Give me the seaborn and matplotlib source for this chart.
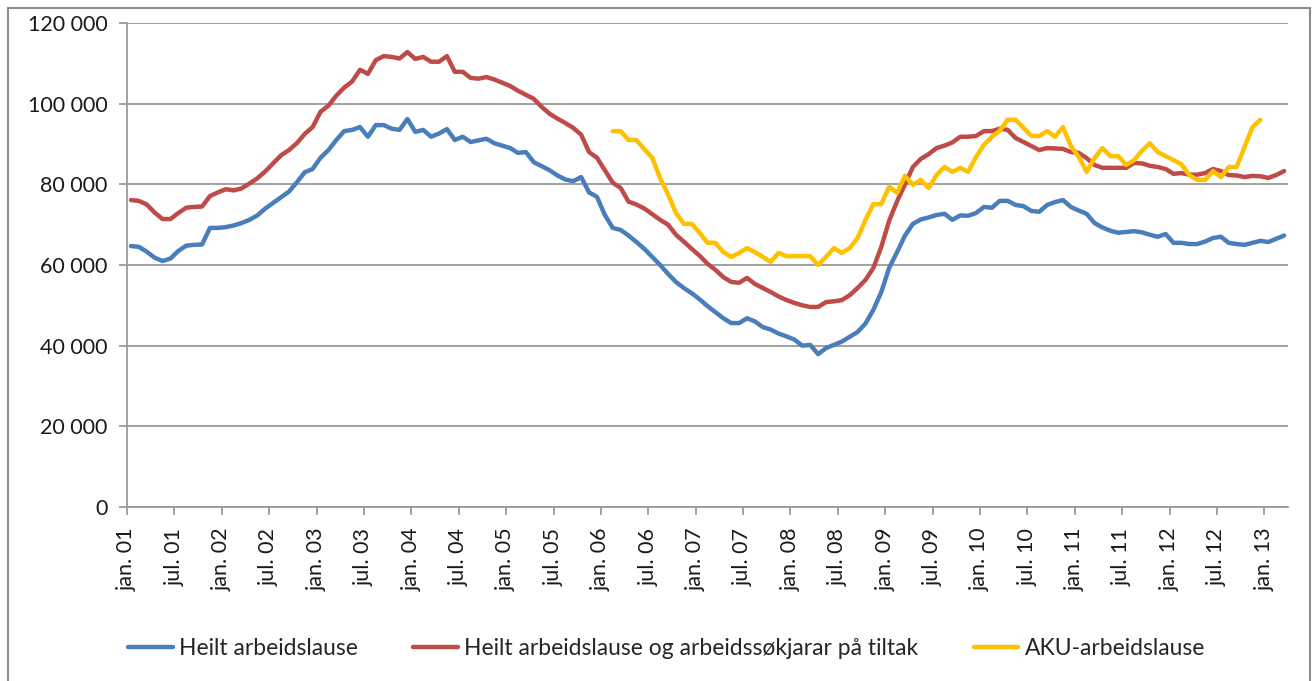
import numpy as np
import pandas as pd
import matplotlib.pyplot as plt
import seaborn as sns
from matplotlib.patches import Rectangle

# monthly values, thousands of persons, jan 2001 - mar 2013
months = pd.date_range('2001-01-01', periods=147, freq='MS')

heilt_k = [
    64.7, 64.5, 63.3, 61.8, 61.0, 61.6, 63.5, 64.8, 65.0, 65.1, 69.2, 69.2,
    69.4, 69.8, 70.4, 71.2, 72.3, 74.0, 75.4, 76.8, 78.2, 80.5, 83.0, 83.8,
    86.6, 88.5, 91.0, 93.2, 93.5, 94.2, 91.8, 94.7, 94.7, 93.8, 93.5, 96.2,
    93.0, 93.5, 91.8, 92.6, 93.7, 91.0, 91.8, 90.5, 90.9, 91.3, 90.2, 89.6,
    89.0, 87.8, 88.0, 85.5, 84.5, 83.5, 82.2, 81.2, 80.8, 81.8, 78.0, 76.9,
    72.4, 69.2, 68.7, 67.3, 65.7, 64.0, 62.0, 60.0, 57.8, 55.8, 54.3, 53.0,
    51.5, 49.8, 48.3, 46.8, 45.6, 45.6, 46.8, 46.0, 44.6, 44.0, 43.0, 42.3,
    41.5, 40.0, 40.2, 37.9, 39.4, 40.2, 41.0, 42.2, 43.4, 45.5, 48.9, 53.3,
    59.3, 63.2, 67.3, 70.2, 71.3, 71.8, 72.4, 72.7, 71.2, 72.3, 72.2, 72.9,
    74.4, 74.2, 75.9, 75.9, 74.9, 74.6, 73.4, 73.2, 74.9, 75.6, 76.1, 74.4,
    73.5, 72.7, 70.4, 69.3, 68.5, 68.0, 68.2, 68.4, 68.1, 67.5, 67.0, 67.7,
    65.5, 65.5, 65.2, 65.2, 65.8, 66.7, 67.0, 65.5, 65.2, 65.0, 65.5, 66.0,
    65.7, 66.5, 67.3,
]

tiltak_k = [
    76.1, 75.9, 75.0, 73.0, 71.4, 71.4, 72.9, 74.2, 74.4, 74.5, 77.1, 78.0,
    78.8, 78.5, 79.0, 80.2, 81.5, 83.2, 85.2, 87.2, 88.5, 90.2, 92.5, 94.2,
    98.0, 99.5, 102.0, 104.0, 105.5, 108.4, 107.4, 110.8, 111.8, 111.6, 111.2, 112.8,
    111.1, 111.6, 110.4, 110.4, 111.8, 107.9, 107.9, 106.4, 106.2, 106.6, 106.0, 105.2,
    104.4, 103.2, 102.2, 101.2, 99.2, 97.5, 96.3, 95.2, 94.0, 92.3, 88.0, 86.6,
    83.5, 80.4, 79.1, 75.7, 75.0, 74.0, 72.6, 71.2, 70.0, 67.5, 65.8, 64.0,
    62.3, 60.3, 58.8, 57.0, 55.8, 55.6, 56.8, 55.3, 54.3, 53.3, 52.2, 51.3,
    50.6, 50.0, 49.6, 49.6, 50.8, 51.0, 51.3, 52.5, 54.3, 56.3, 59.3, 64.5,
    71.0, 75.8, 80.0, 84.3, 86.3, 87.5, 89.0, 89.6, 90.4, 91.8, 91.8, 92.0,
    93.2, 93.2, 93.8, 93.5, 91.5, 90.5, 89.5, 88.5, 89.0, 88.9, 88.8, 88.0,
    87.8, 86.5, 84.8, 84.1, 84.1, 84.1, 84.1, 85.3, 85.2, 84.6, 84.3, 83.8,
    82.6, 82.8, 82.4, 82.4, 82.8, 83.8, 83.3, 82.3, 82.2, 81.8, 82.1, 82.0,
    81.6, 82.3, 83.3,
]

# AKU series runs feb 2006 - dec 2012
aku_first = '2006-02-01'
aku_k = [
    93.2, 93.2, 91.0, 91.0, 88.7, 86.6, 81.5, 77.5, 72.9, 70.2,
    70.2, 68.0, 65.5, 65.5, 63.2, 62.0, 63.0, 64.2, 63.2, 62.0,
    60.8, 63.0, 62.2, 62.2, 62.2, 62.2, 60.0, 62.0, 64.2, 63.0,
    64.2, 66.7, 71.2, 75.1, 75.1, 79.4, 77.9, 82.1, 79.9, 81.1,
    79.1, 82.3, 84.3, 83.1, 84.1, 83.1, 86.8, 89.8, 91.8, 93.3,
    96.0, 96.0, 94.0, 92.0, 92.0, 93.2, 91.8, 94.2, 89.5, 86.8,
    83.1, 86.5, 89.0, 87.0, 87.0, 84.8, 86.0, 88.3, 90.2, 88.0,
    87.0, 86.0, 85.0, 82.3, 81.1, 81.1, 83.3, 81.8, 84.3, 84.3,
    89.3, 94.2, 96.0,
]

series_names = [
    'Heilt arbeidslause',
    'Heilt arbeidslause og arbeidssøkjarar på tiltak',
    'AKU-arbeidslause',
]
colors = ['#4A7EBB', '#BE4B48', '#FFC000']

tick_labels = [
    'jan. 01', 'jul. 01', 'jan. 02', 'jul. 02', 'jan. 03', 'jul. 03',
    'jan. 04', 'jul. 04', 'jan. 05', 'jul. 05', 'jan. 06', 'jul. 06',
    'jan. 07', 'jul. 07', 'jan. 08', 'jul. 08', 'jan. 09', 'jul. 09',
    'jan. 10', 'jul. 10', 'jan. 11', 'jul. 11', 'jan. 12', 'jul. 12',
    'jan. 13',
]

# build long table
aku_months = pd.date_range(aku_first, periods=len(aku_k), freq='MS')
wide = pd.DataFrame({
    series_names[0]: pd.Series(heilt_k, index=months),
    series_names[1]: pd.Series(tiltak_k, index=months),
    series_names[2]: pd.Series(aku_k, index=aku_months),
}).reindex(months) * 1000
wide['pos'] = np.arange(len(months)) + 0.5   # points sit in the middle of each month
long_df = wide.melt(id_vars='pos', var_name='serie', value_name='value').dropna()

sns.set_style('white')
plt.rcParams['font.family'] = ['Lato', 'DejaVu Sans']

fig = plt.figure(figsize=(13.15, 6.81), dpi=100)
ax = fig.add_axes([0.0966, 0.2555, 0.8829, 0.7107])

sns.lineplot(data=long_df, x='pos', y='value', hue='serie', hue_order=series_names,
             palette=colors, linewidth=3.2, ax=ax, legend=False)

ax.set_xlim(0, len(months))
ax.set_ylim(0, 120000)
ax.set_yticks(np.arange(0, 120001, 20000))
ax.yaxis.set_major_formatter(plt.FuncFormatter(lambda v, _: f'{v:,.0f}'.replace(',', ' ')))
ax.set_xticks(np.arange(0, len(months), 6))
ax.set_xticklabels(tick_labels, rotation=90)
ax.set_xlabel('')
ax.set_ylabel('')

ax.grid(axis='y', color='#9a9a9a', linewidth=1.3)
ax.set_axisbelow(True)
for side in ['top', 'right']:
    ax.spines[side].set_visible(False)
for side in ['left', 'bottom']:
    ax.spines[side].set_color('#9a9a9a')
    ax.spines[side].set_linewidth(1.3)
ax.tick_params(axis='both', which='major', direction='out', length=6, width=1.3,
               color='#9a9a9a', labelsize=15.5, labelcolor='#1a1a1a',
               bottom=True, left=True)
ax.tick_params(axis='y', pad=8)
ax.tick_params(axis='x', pad=9)

handles = ax.get_lines()[:3]
fig.legend(handles, series_names, loc='center', bbox_to_anchor=(0.507, 0.048),
           ncol=3, frameon=False, fontsize=16.5, handlelength=1.95,
           handletextpad=0.28, columnspacing=2.4)

# outer chart frame
fig.add_artist(Rectangle((0.006, -0.1), 0.990, 1.088, transform=fig.transFigure,
                         fill=False, edgecolor='#8c8c8c', linewidth=1.5, clip_on=False))

fig.savefig('out.png', dpi=100)
